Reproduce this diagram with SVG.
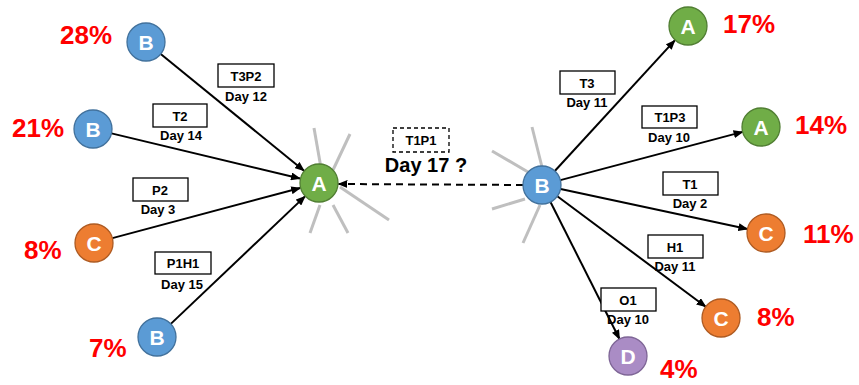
<svg xmlns="http://www.w3.org/2000/svg" width="859" height="385" viewBox="0 0 859 385">
<style>
.ray{stroke:#BFBFBF;stroke-width:3;fill:none}
.edge{stroke:#000;stroke-width:2;fill:none;marker-end:url(#ah)}
.dash{stroke:#000;stroke-width:2;fill:none;stroke-dasharray:7,5;marker-end:url(#ah)}
.nb{fill:#5B9BD5;stroke:#41719C;stroke-width:1.3}
.ng{fill:#70AD47;stroke:#507E32;stroke-width:1.3}
.no{fill:#ED7D31;stroke:#AE5A21;stroke-width:1.3}
.np{fill:#AA8CC5;stroke:#7E6596;stroke-width:1.3}
.nt{font-family:"Liberation Sans",Arial,sans-serif;font-weight:bold;font-size:21px;fill:#fff;text-anchor:middle}
.pct{font-family:"Liberation Sans",Arial,sans-serif;font-weight:bold;font-size:26px;fill:#FF0000}
.box{fill:#fff;stroke:#000;stroke-width:1.3}
.dbox{fill:#fff;stroke:#000;stroke-width:1.3;stroke-dasharray:4,3}
.lt{font-family:"Liberation Sans",Arial,sans-serif;font-weight:bold;font-size:13px;fill:#000;text-anchor:middle}
.big{font-family:"Liberation Sans",Arial,sans-serif;font-weight:bold;font-size:20px;fill:#000;text-anchor:middle}
</style>
<defs>
<marker id="ah" markerUnits="userSpaceOnUse" markerWidth="10" markerHeight="8" refX="9" refY="4" orient="auto">
<path d="M0,0 L10,4 L0,8 Z" fill="#000"/>
</marker>
</defs>
<g id="rays">
<line class="ray" x1="314" y1="128" x2="321" y2="168"/>
<line class="ray" x1="350" y1="134" x2="333" y2="170"/>
<line class="ray" x1="320" y1="205" x2="310" y2="233"/>
<line class="ray" x1="333" y1="205" x2="348" y2="233"/>
<line class="ray" x1="340" y1="187" x2="389" y2="220"/>
<line class="ray" x1="532" y1="127" x2="542" y2="167"/>
<line class="ray" x1="492" y1="151" x2="528" y2="172"/>
<line class="ray" x1="492" y1="209" x2="525" y2="199"/>
<line class="ray" x1="523" y1="243" x2="540" y2="205"/>
</g>
<g id="connectors">
<line class="edge" x1="160.7" y1="54" x2="304" y2="170.7"/>
<line class="edge" x1="111.5" y1="133.4" x2="300" y2="178.5"/>
<line class="edge" x1="112.4" y1="238.1" x2="300.2" y2="188"/>
<line class="edge" x1="170.8" y1="323.9" x2="305" y2="196.4"/>
<line class="dash" x1="523" y1="185" x2="338.5" y2="184"/>
<line class="edge" x1="554.8" y1="171" x2="674.8" y2="40.4"/>
<line class="edge" x1="560.4" y1="180.1" x2="742.6" y2="131.9"/>
<line class="edge" x1="560.6" y1="189" x2="747.4" y2="229"/>
<line class="edge" x1="557.3" y1="196.3" x2="705.7" y2="306.7"/>
<line class="edge" x1="550.5" y1="202" x2="619.5" y2="339"/>
</g>
<g id="labels">
<rect class="box" x="218" y="64" width="56" height="23"/>
<text class="lt" x="246" y="81">T3P2</text>
<text class="lt" x="246" y="101">Day 12</text>
<rect class="box" x="153" y="104" width="54" height="23"/>
<text class="lt" x="180" y="121">T2</text>
<text class="lt" x="181" y="140">Day 14</text>
<rect class="box" x="133" y="178" width="55" height="23"/>
<text class="lt" x="160" y="195">P2</text>
<text class="lt" x="158" y="214">Day 3</text>
<rect class="box" x="155" y="252" width="56" height="22"/>
<text class="lt" x="183" y="268">P1H1</text>
<text class="lt" x="182" y="289">Day 15</text>
<rect class="dbox" x="393" y="128" width="56" height="24"/>
<text class="lt" x="421" y="145">T1P1</text>
<text class="big" x="426" y="172">Day 17 ?</text>
<rect class="box" x="560" y="71" width="55" height="23"/>
<text class="lt" x="587" y="88">T3</text>
<text class="lt" x="587" y="107">Day 11</text>
<rect class="box" x="642" y="106" width="55" height="22"/>
<text class="lt" x="670" y="122">T1P3</text>
<text class="lt" x="669" y="142">Day 10</text>
<rect class="box" x="663" y="172" width="55" height="23"/>
<text class="lt" x="690" y="189">T1</text>
<text class="lt" x="690" y="208">Day 2</text>
<rect class="box" x="648" y="235" width="55" height="23"/>
<text class="lt" x="675" y="252">H1</text>
<text class="lt" x="675" y="271">Day 11</text>
<rect class="box" x="601" y="288" width="55" height="23"/>
<text class="lt" x="628" y="305">O1</text>
<text class="lt" x="628" y="324">Day 10</text>
</g>
<g id="n1"><circle class="nb" cx="146" cy="42" r="19"/><text class="nt" x="146" y="49.5">B</text><text class="pct" x="60" y="44">28%</text></g>
<g id="n2"><circle class="nb" cx="93" cy="129" r="19"/><text class="nt" x="93" y="136.5">B</text><text class="pct" x="12" y="137">21%</text></g>
<g id="n3"><circle class="no" cx="94" cy="243" r="19"/><text class="nt" x="94" y="250.5">C</text><text class="pct" x="24" y="259">8%</text></g>
<g id="n4"><circle class="nb" cx="157" cy="337" r="19"/><text class="nt" x="157" y="344.5">B</text><text class="pct" x="89" y="357">7%</text></g>
<g id="nA"><circle class="ng" cx="319" cy="183" r="19"/><text class="nt" x="319" y="190.5">A</text></g>
<g id="nB"><circle class="nb" cx="542" cy="185" r="19"/><text class="nt" x="542" y="192.5">B</text></g>
<g id="n5"><circle class="ng" cx="688" cy="26" r="19"/><text class="nt" x="688" y="33.5">A</text><text class="pct" x="723" y="33">17%</text></g>
<g id="n6"><circle class="ng" cx="761" cy="127" r="19"/><text class="nt" x="761" y="134.5">A</text><text class="pct" x="795" y="134">14%</text></g>
<g id="n7"><circle class="no" cx="766" cy="233" r="19"/><text class="nt" x="766" y="240.5">C</text><text class="pct" x="803" y="243">11%</text></g>
<g id="n8"><circle class="no" cx="721" cy="318" r="19"/><text class="nt" x="721" y="325.5">C</text><text class="pct" x="757" y="326">8%</text></g>
<g id="n9"><circle class="np" cx="628" cy="356" r="19"/><text class="nt" x="628" y="363.5">D</text><text class="pct" x="660" y="378">4%</text></g>
</svg>
